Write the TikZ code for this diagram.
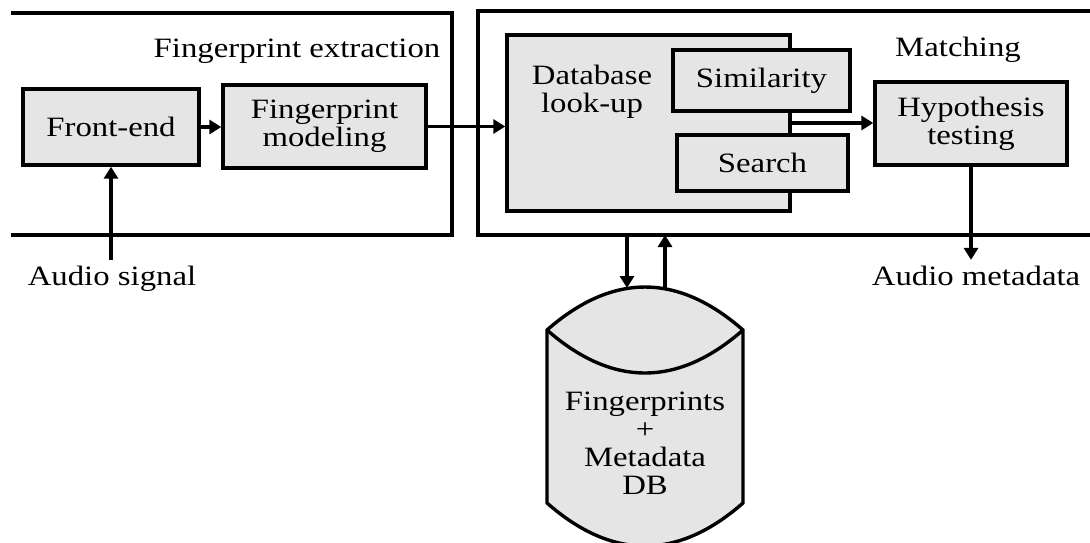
\documentclass[tikz,border=0pt]{standalone}
\usepackage{fontspec}
\setmainfont{Liberation Serif}[FakeStretch=1.17]
\usetikzlibrary{arrows.meta}
\definecolor{boxgray}{gray}{0.9}
\tikzset{
  blk/.style={draw, fill=boxgray, line width=1.7pt, inner sep=0pt, align=center},
  lbl/.style={anchor=base, inner sep=2pt},
}
\begin{document}
\begin{tikzpicture}[x=0.5pt, y=-0.5pt, line width=1.7pt, >={Triangle[length=6pt,width=7pt]},
  font=\fontsize{14}{14}\selectfont]
\useasboundingbox (0,0) rectangle (1090,542);
\clip (0,0) rectangle (1090,542);
% frames
\draw (11,13) -- (452,13) -- (452,235) -- (11,235);
\draw (1090,11) -- (478,11) -- (478,235) -- (1090,235);
\node[lbl] (fx) at (297,57) {Fingerprint extraction};
\node[lbl] (mt) at (958,56) {Matching};

\node[blk, minimum width=88pt, minimum height=38pt] (fe) at (111,127) {Front-end};
\node[blk, minimum width=101.5pt, minimum height=41.5pt] (fpm) at (324.5,126.5) {Fingerprint\\modeling};
\node[blk, minimum width=141.5pt, minimum height=88pt] (dbl) at (648.5,123) {};
\node[align=center, inner sep=0pt] (dbltxt) at (592,92) {Database\\look-up};
\node[blk, minimum width=88.5pt, minimum height=30.5pt] (sim) at (761.5,80.5) {Similarity};
\node[blk, minimum width=85.5pt, minimum height=28pt] (srch) at (762.5,163) {Search};
\node[blk, minimum width=96pt, minimum height=41.5pt] (hyp) at (971,123.5) {Hypothesis\\testing};

\node[lbl] (as) at (112,285) {Audio signal};
\node[lbl] (am) at (976,285) {Audio metadata};

\draw[->] (fe.south |- as.north) -- (fe.south);
\draw[->] (fe.east) -- (fe.east -| fpm.west);
\draw[->] (fpm.east) -- (fpm.east -| dbl.west);
\draw[->] (dbl.east) -- (dbl.east -| hyp.west);
\draw[->] (hyp.south) -- (hyp.south |- am.north);

% database
\filldraw[fill=boxgray] (547,330) .. controls (612.3,272.7) and (677.7,272.7) .. (743,330)
  -- (743,503) .. controls (677.7,560.3) and (612.3,560.3) .. (547,503) -- cycle;
\draw (547,330) .. controls (612.3,387.3) and (677.7,387.3) .. (743,330);
\node[align=center, inner sep=0pt] (db) at (645,443) {Fingerprints\\+\\Metadata\\DB};

\coordinate (qout) at (627,235);
\coordinate (qin) at (627,288);
\coordinate (rout) at (665,288);
\coordinate (rin) at (665,235);
\draw[->] (qout) -- (qin);
\draw[->] (rout) -- (rin);

\end{tikzpicture}
\end{document}
